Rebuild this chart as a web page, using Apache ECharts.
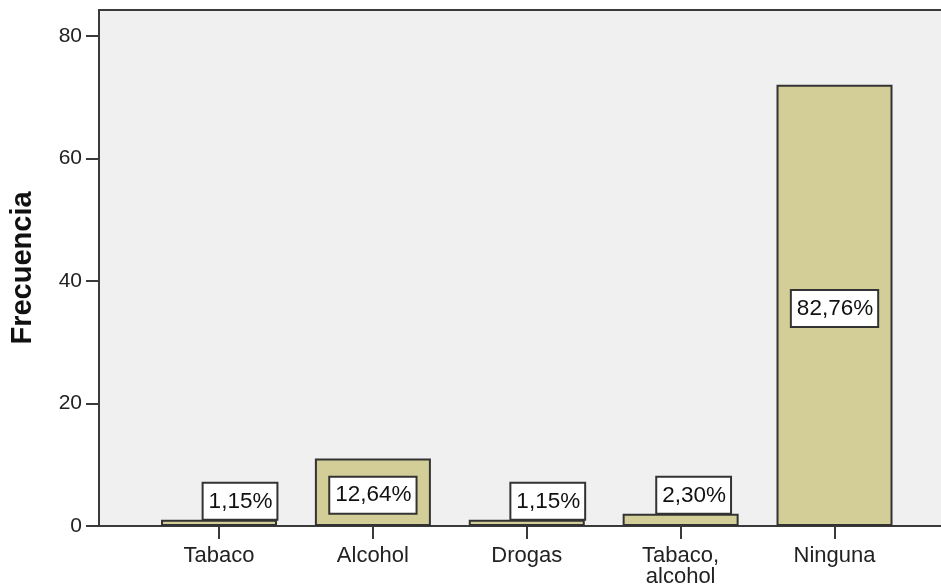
<!DOCTYPE html>
<html>
<head>
<meta charset="utf-8">
<script src="https://cdn.jsdelivr.net/npm/echarts@6/dist/echarts.min.js"></script>
<style>
html,body{margin:0;padding:0;background:#fff;}
#c{width:941px;height:586px;}
</style>
</head>
<body>
<div id="c"></div>
<script>
const categories = ["Tabaco", "Alcohol", "Drogas", "Tabaco,\nalcohol", "Ninguna"];
const frequencies = [1, 11, 1, 2, 72];
const percentLabels = ["1,15%", "12,64%", "1,15%", "2,30%", "82,76%"];
const yTicks = [0, 20, 40, 60, 80];

// label placement per bar (SPSS style: inside if it fits, else above)
const labelPlacement = [
  {position: 'top', offset: [21, 0]},
  {position: 'inside', offset: [0, 3]},
  {position: 'top', offset: [21, 0]},
  {position: 'top', offset: [13, 0]},
  {position: 'inside', offset: [0, 3]}
];

const FONT = '"Liberation Sans", Arial, sans-serif';
const chart = echarts.init(document.getElementById('c'), null, {renderer: 'canvas'});

const barData = frequencies.map((v, i) => ({
  value: [i, v],
  label: {
    show: true,
    position: labelPlacement[i].position,
    offset: labelPlacement[i].offset,
    distance: 1,
    formatter: percentLabels[i]
  }
}));

chart.setOption({
  animation: false,
  backgroundColor: '#ffffff',
  grid: {
    left: 99, right: 0, top: 10, bottom: 60,
    containLabel: false, outerBoundsMode: 'none',
    show: true, backgroundColor: '#f0f0f0', borderWidth: 0
  },
  xAxis: [{
    type: 'value',
    min: -0.78, max: 4.692,
    splitLine: {show: false},
    axisLine: {show: true, onZero: false, lineStyle: {color: '#3a3a3a', width: 2}},
    axisTick: {show: true, customValues: [0, 1, 2, 3, 4], length: 13, lineStyle: {color: '#3a3a3a', width: 2}},
    axisLabel: {
      show: true, customValues: [0, 1, 2, 3, 4],
      formatter: v => categories[Math.round(v)],
      color: '#222', fontFamily: FONT, fontSize: 22, lineHeight: 21, margin: 19
    }
  }, {
    type: 'value', position: 'top',
    min: -0.78, max: 4.692,
    splitLine: {show: false},
    axisLine: {show: true, onZero: false, lineStyle: {color: '#3a3a3a', width: 2}},
    axisTick: {show: false},
    axisLabel: {show: false}
  }],
  yAxis: {
    type: 'value',
    min: 0, max: 84.2,
    splitLine: {show: false},
    axisLine: {show: true, onZero: false, lineStyle: {color: '#3a3a3a', width: 2}},
    axisTick: {show: true, customValues: yTicks, length: 13, lineStyle: {color: '#3a3a3a', width: 2}},
    axisLabel: {
      show: true, customValues: yTicks,
      color: '#222', fontFamily: FONT, fontSize: 21, margin: 17
    },
    name: 'Frecuencia',
    nameLocation: 'middle',
    nameGap: 62,
    nameTextStyle: {color: '#111', fontFamily: FONT, fontSize: 29, fontWeight: 'bold'}
  },
  series: [{
    type: 'bar',
    xAxisIndex: 0,
    barWidth: 116,
    data: barData,
    itemStyle: {color: '#d3ce97', borderColor: '#333333', borderWidth: 2},
    label: {
      color: '#111', fontFamily: FONT, fontSize: 22.5, lineHeight: 22,
      backgroundColor: '#ffffff', borderColor: '#333333', borderWidth: 2,
      padding: [7, 4, 6, 5]
    }
  }]
});
</script>
</body>
</html>
